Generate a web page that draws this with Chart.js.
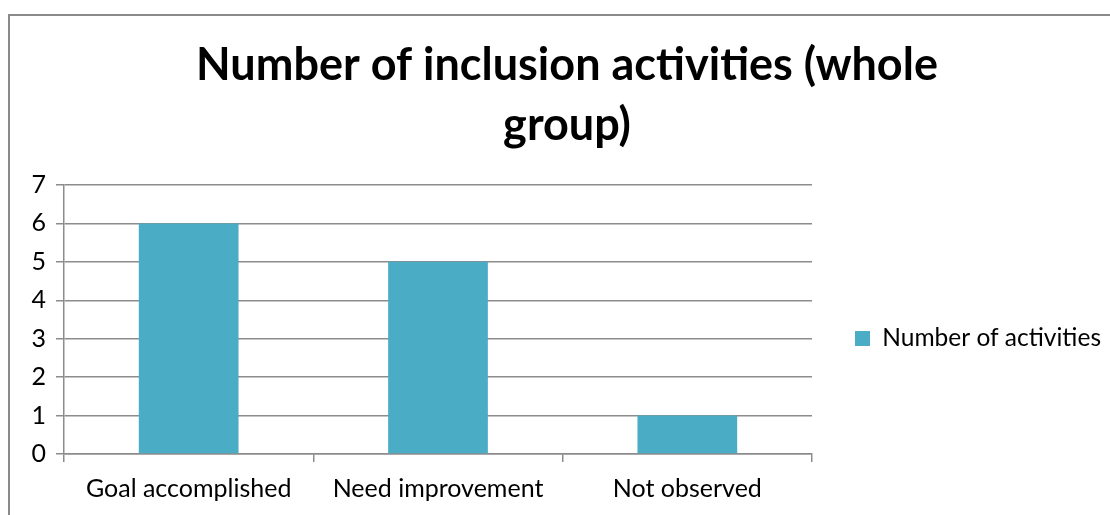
<!DOCTYPE html>
<html>
<head>
<meta charset="utf-8">
<script src="https://cdn.jsdelivr.net/npm/chart.js@4.4.1/dist/chart.umd.min.js"></script>
<style>
  html, body { margin: 0; padding: 0; background: #fff; overflow: hidden; }
  #wrap { position: relative; width: 1110px; height: 515px; }
  #frame {
    position: absolute; left: 8px; top: 14px;
    width: 1200px; height: 600px;
    border: 2px solid #8a8a8a; box-sizing: border-box;
  }
  canvas { position: absolute; left: 0; top: 0; }
</style>
</head>
<body>
<div id="wrap">
  <div id="frame"></div>
  <canvas id="barChart" width="1110" height="515"></canvas>
</div>
<script>
// categorias e valores
const categories = ['Goal accomplished', 'Need improvement', 'Not observed'];
const activities = [6, 5, 1];
const yTicks = [0, 1, 2, 3, 4, 5, 6, 7];

const gridGray = '#8c8c8c';
const barColor = '#4bacc6';

// legenda mais larga e um pouco abaixo do centro
const legendPlacer = {
  id: 'legendPlacer',
  beforeLayout(chart) {
    const lg = chart.legend;
    if (lg && !lg.__sized) {
      const fit = lg.fit;
      lg.fit = function () { fit.call(this); this.width = 298; };
      lg.__sized = true;
    }
  },
  afterLayout(chart) {
    chart.legend.top += 81;
    chart.legend.bottom += 81;
  }
};

const ctxBar = document.getElementById('barChart').getContext('2d');
new Chart(ctxBar, {
  type: 'bar',
  data: {
    labels: categories,
    datasets: [{
      label: 'Number of activities',
      data: activities,
      backgroundColor: barColor,
      categoryPercentage: 1,
      barPercentage: 0.4
    }]
  },
  plugins: [legendPlacer],
  options: {
    responsive: false,
    animation: false,
    layout: { padding: { left: 24, right: 0, top: 0, bottom: 0 } },
    plugins: {
      title: {
        display: true,
        text: ['Number of inclusion activities (whole', 'group)'],
        color: '#000',
        font: { family: 'Lato', size: 45, weight: 'bold', lineHeight: 60 / 45 },
        padding: { top: 35, bottom: 30 }
      },
      legend: {
        position: 'right',
        labels: {
          color: '#000',
          boxWidth: 15,
          boxHeight: 15,
          padding: 43,
          font: { family: 'Lato', size: 24.5 }
        }
      },
      tooltip: { enabled: false }
    },
    scales: {
      x: {
        afterFit: (scale) => { scale.height = 61; },
        grid: {
          drawOnChartArea: false,
          drawTicks: true,
          tickLength: 8,
          color: gridGray,
          lineWidth: 1.5
        },
        border: { color: gridGray, width: 1.5 },
        ticks: {
          color: '#000',
          padding: 12,
          font: { family: 'Lato', size: 25 }
        }
      },
      y: {
        min: 0,
        max: 7,
        afterBuildTicks: (scale) => {
          scale.ticks = yTicks.map(v => ({ value: v }));
        },
        afterFit: (scale) => { scale.width = 40; },
        grid: {
          color: gridGray,
          lineWidth: 1.5,
          tickLength: 8
        },
        border: { color: gridGray, width: 1.5 },
        ticks: {
          color: '#000',
          padding: 10,
          font: { family: 'Lato', size: 25 }
        }
      }
    }
  }
});
</script>
</body>
</html>
